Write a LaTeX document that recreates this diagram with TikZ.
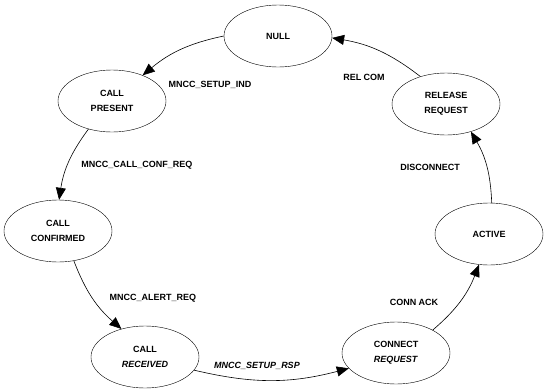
\documentclass[tikz,border=0pt]{standalone}
\usepackage{fontspec}
\setmainfont{Liberation Sans}
\usetikzlibrary{arrows.meta}
\usetikzlibrary{shapes}

\begin{document}
\begin{tikzpicture}[x=1pt,y=-1pt]
\tikzset{font=\fontsize{9}{15}\selectfont\bfseries}
\tikzset{state/.style={draw, ellipse, minimum width=108pt, minimum height=62pt, inner sep=0pt, align=center}}
\tikzset{trans/.style={draw, line width=0.6pt, -{Triangle[length=12pt,width=10pt]}, bend right=14}}
\tikzset{lbl/.style={inner sep=1pt}}
\useasboundingbox (0,0) rectangle (551,391);
% states
\node[state] (null) at (278,36) {NULL};
\node[state] (present) at (112,101) {CALL\\PRESENT};
\node[state] (confirmed) at (58,231) {CALL\\CONFIRMED};
\node[state] (received) at (145,357) {CALL\\\textit{RECEIVED}};
\node[state] (connreq) at (396,353) {CONNECT\\\textit{REQUEST}};
\node[state] (active) at (489,234) {ACTIVE};
\node[state] (relreq) at (446,104) {RELEASE\\REQUEST};
% transitions
\draw[trans] (null.180) to (present.40);
\draw[trans] (present.230) to (confirmed.88);
\draw[trans] (confirmed.298) to (received.130);
\draw[trans] (received.345) to (connreq.198);
\draw[trans] (connreq.32) to (active.252);
\draw[trans] (active.85) to (relreq.312);
\draw[trans] (relreq.133) to (null.358);
% labels
\node[lbl] (setupind) at (210,85) {MNCC\_SETUP\_IND};
\node[lbl] (confreq) at (137,165) {MNCC\_CALL\_CONF\_REQ};
\node[lbl] (alertreq) at (153,298) {MNCC\_ALERT\_REQ};
\node[lbl] (setuprsp) at (257,366) {\itshape MNCC\_SETUP\_RSP};
\node[lbl] (connack) at (414,302) {CONN ACK};
\node[lbl] (disc) at (430,167) {DISCONNECT};
\node[lbl] (relcom) at (364,77) {REL COM};
\end{tikzpicture}
\end{document}
